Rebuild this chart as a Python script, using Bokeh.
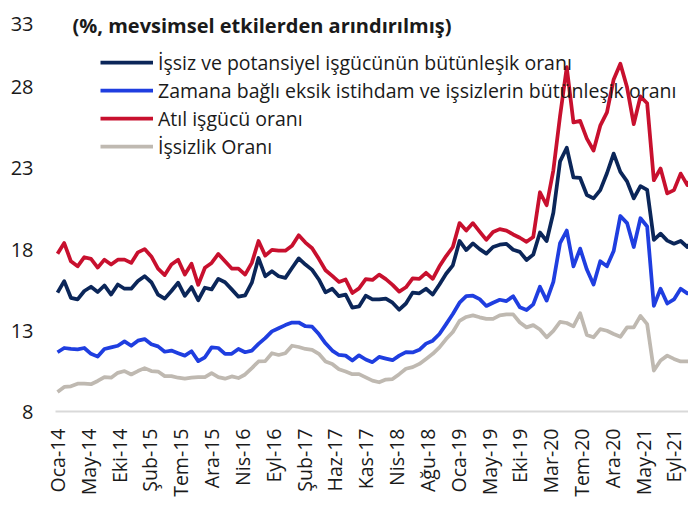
import numpy as np
from bokeh.plotting import figure
from bokeh.models import FixedTicker, Legend, LegendItem, Label, Range1d
from bokeh.embed import file_html
from bokeh.resources import INLINE

# ---- data ----
tick_labels = ["Oca-14", "May-14", "Eki-14", "Şub-15", "Tem-15", "Ara-15", "Nis-16",
               "Eyl-16", "Şub-17", "Haz-17", "Kas-17", "Nis-18", "Ağu-18", "Oca-19",
               "May-19", "Eki-19", "Mar-20", "Tem-20", "Ara-20", "May-21", "Eyl-21"]
last_label_month = 92  # Eyl-21 = month index 92 from Oca-14
y_ticks = [8, 13, 18, 23, 28, 33]

issiz_potansiyel = [
    15.32, 16.03, 15.0, 14.9, 15.42, 15.68, 15.36, 15.76, 15.2, 15.82, 15.56, 15.56,
    16.03, 16.33, 15.96, 15.2, 14.95, 15.42, 15.93, 15.12, 15.66, 14.85, 15.62, 15.52,
    16.17, 15.96, 15.52, 15.07, 15.15, 15.93, 17.45, 16.33, 16.64, 16.33, 16.23, 16.84,
    17.43, 17.05, 16.72, 16.13, 15.34, 15.56, 15.1, 15.2, 14.4, 14.47, 15.13, 14.91,
    14.9, 14.95, 14.7, 14.27, 14.65, 15.32, 15.28, 15.56, 15.2, 15.82, 16.48, 17.0,
    18.5, 17.94, 18.35, 18.0, 17.72, 18.13, 18.27, 18.32, 17.96, 17.83, 17.33, 17.66,
    19.02, 18.5, 20.24, 23.4, 24.24, 22.41, 22.38, 21.33, 21.12, 21.63, 22.67, 23.88,
    22.75, 22.17, 21.12, 21.88, 21.65, 18.57, 18.95, 18.52, 18.33, 18.5, 18.13, 18.64]

zamana_bagli = [
    11.65, 11.91, 11.85, 11.83, 11.91, 11.55, 11.38, 11.85, 11.95, 12.05, 12.32, 12.05,
    12.36, 12.46, 12.14, 12.01, 11.68, 11.75, 11.59, 11.44, 11.71, 11.1, 11.34, 11.95,
    11.91, 11.55, 11.55, 11.85, 11.65, 11.75, 12.16, 12.52, 12.93, 13.13, 13.32, 13.48,
    13.48, 13.25, 13.22, 12.77, 12.2, 11.75, 11.48, 11.44, 11.14, 11.46, 11.2, 11.04,
    11.36, 11.26, 11.16, 11.44, 11.66, 11.64, 11.8, 12.18, 12.36, 12.77, 13.38, 14.0,
    14.7, 15.1, 15.13, 14.92, 14.5, 14.7, 14.88, 14.8, 15.1, 14.42, 14.25, 14.6,
    15.68, 14.83, 15.98, 18.37, 19.14, 16.94, 18.03, 16.74, 15.82, 17.25, 16.94, 17.88,
    20.04, 19.6, 18.13, 19.9, 19.39, 14.5, 15.56, 14.65, 14.9, 15.56, 15.27, 15.4]

atil_isgucu = [
    17.72, 18.37, 17.25, 16.94, 17.5, 17.4, 16.86, 17.35, 17.05, 17.35, 17.35, 17.15,
    17.8, 18.0, 17.55, 16.8, 16.4, 17.05, 17.35, 16.43, 17.1, 15.8, 16.85, 17.15,
    17.7, 17.25, 16.8, 16.8, 16.43, 17.15, 18.5, 17.6, 17.95, 17.9, 17.9, 18.2,
    18.85, 18.4, 18.05, 17.4, 16.7, 16.35, 15.98, 16.13, 15.3, 15.58, 16.15, 16.1,
    16.43, 16.15, 15.8, 15.38, 15.65, 16.2, 16.17, 16.54, 16.17, 16.94, 17.57, 18.13,
    19.6, 19.14, 19.6, 19.08, 18.57, 19.05, 19.23, 19.14, 18.9, 18.7, 18.45, 18.75,
    21.5, 20.7, 22.85, 26.2, 29.2, 25.8, 25.9, 24.8, 24.07, 25.6, 26.42, 28.45,
    29.41, 27.96, 25.7, 27.4, 26.98, 22.24, 22.96, 21.43, 21.63, 22.65, 21.94, 22.65]

issizlik = [
    9.2, 9.51, 9.55, 9.71, 9.71, 9.68, 9.88, 10.12, 10.08, 10.38, 10.49, 10.28,
    10.49, 10.67, 10.49, 10.46, 10.18, 10.18, 10.08, 10.02, 10.08, 10.12, 10.12, 10.36,
    10.12, 10.02, 10.16, 10.06, 10.28, 10.67, 11.08, 11.1, 11.59, 11.48, 11.59, 12.05,
    11.97, 11.85, 11.8, 11.55, 11.08, 10.93, 10.6, 10.46, 10.3, 10.3, 10.1, 9.9,
    9.8, 9.97, 10.0, 10.3, 10.63, 10.73, 10.93, 11.24, 11.55, 11.95, 12.46, 12.9,
    13.58, 13.82, 13.92, 13.8, 13.7, 13.7, 13.92, 13.98, 13.98, 13.48, 13.18, 13.32,
    13.05, 12.57, 12.97, 13.52, 13.45, 13.24, 14.05, 12.71, 12.57, 13.07, 12.97, 12.77,
    12.6, 13.18, 13.18, 13.89, 13.38, 10.52, 11.14, 11.44, 11.24, 11.08, 11.08, 11.08]

months = list(range(len(issizlik)))

# ---- figure ----
FONT = "Open Sans"
TXT = "#1a1a1a"
p = figure(width=688, height=499, output_backend="svg", toolbar_location=None,
           x_range=Range1d(-0.3, 94.17), y_range=Range1d(y_ticks[0], y_ticks[-1]),
           min_border_left=55, min_border_right=0, min_border_top=5,
           min_border_bottom=86)
p.outline_line_color = None
p.background_fill_color = "white"
p.border_fill_color = "white"
p.xgrid.visible = False
p.ygrid.visible = False

LW = 3.75
r_gray = p.line(months, issizlik, line_color="#bfb9b1", line_width=LW, line_join="round")
r_red = p.line(months, atil_isgucu, line_color="#c8102e", line_width=LW, line_join="round")
r_blue = p.line(months, zamana_bagli, line_color="#1f3ee0", line_width=LW, line_join="round")
r_navy = p.line(months, issiz_potansiyel, line_color="#0b2659", line_width=LW, line_join="round")

xt = [round(i * last_label_month / (len(tick_labels) - 1), 2) for i in range(len(tick_labels))]
p.xaxis.ticker = FixedTicker(ticks=xt)
p.xaxis.major_label_overrides = {t: lab for t, lab in zip(xt, tick_labels)}
p.xaxis.major_label_orientation = np.pi / 2
p.xaxis.axis_line_color = "#d9d9d9"
p.xaxis.axis_line_width = 2
p.xaxis.major_tick_line_color = None
p.xaxis.minor_tick_line_color = None
p.xaxis.major_tick_out = 0
p.xaxis.major_tick_in = 0
p.xaxis.minor_tick_out = 0
p.xaxis.major_label_standoff = 17
p.xaxis.major_label_text_font = FONT
p.xaxis.major_label_text_font_size = "19.5px"
p.xaxis.major_label_text_color = TXT

# the top tick label (33) sits on the canvas edge: push it a little down
p.yaxis.ticker = FixedTicker(ticks=y_ticks)
p.yaxis.major_label_overrides = {y_ticks[-1]: "\n" + str(y_ticks[-1])}
p.yaxis.major_label_text_line_height = 0.35
p.yaxis.axis_line_color = None
p.yaxis.major_tick_line_color = None
p.yaxis.minor_tick_line_color = None
p.yaxis.major_tick_out = 0
p.yaxis.major_tick_in = 0
p.yaxis.minor_tick_out = 0
p.yaxis.major_label_standoff = 22
p.yaxis.major_label_text_font = FONT
p.yaxis.major_label_text_font_size = "20px"
p.yaxis.major_label_text_color = TXT

legend = Legend(items=[
    LegendItem(label="İşsiz ve potansiyel işgücünün bütünleşik oranı", renderers=[r_navy]),
    LegendItem(label="Zamana bağlı eksik istihdam ve işsizlerin bütünleşik oranı", renderers=[r_blue]),
    LegendItem(label="Atıl işgücü oranı", renderers=[r_red]),
    LegendItem(label="İşsizlik Oranı", renderers=[r_gray]),
], location=(45, 251.5))
legend.label_text_font = FONT
legend.label_text_font_size = "19.5px"
legend.label_text_color = TXT
legend.glyph_width = 53
legend.glyph_height = 20
legend.label_height = 20
legend.label_standoff = 5
legend.spacing = 1
legend.padding = 0
legend.margin = 0
legend.border_line_alpha = 0
legend.background_fill_alpha = 0
p.add_layout(legend)

title = Label(x=17, y=386, x_units="screen", y_units="screen",
              text="(%, mevsimsel etkilerden arındırılmış)",
              text_font=FONT, text_font_style="bold", text_font_size="20px",
              text_color=TXT, text_baseline="middle")
p.add_layout(title)

open("out.html", "w").write(file_html(p, INLINE))
